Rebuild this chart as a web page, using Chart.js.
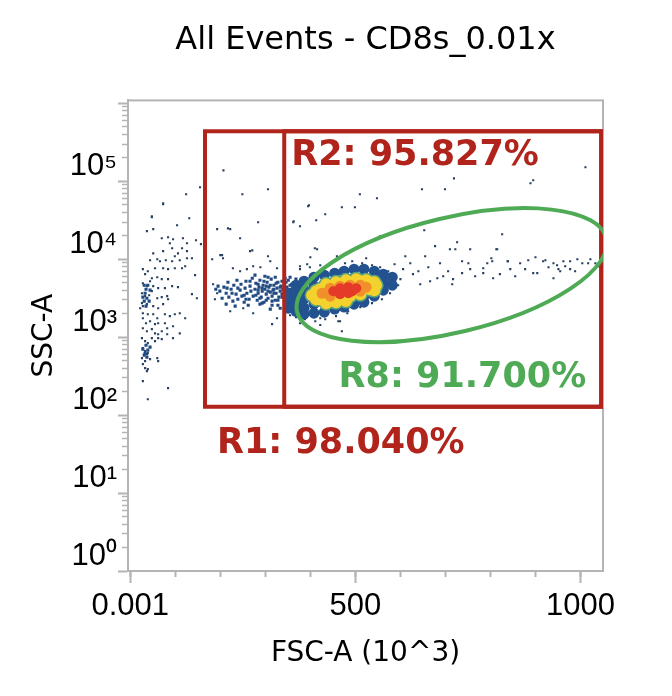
<!DOCTYPE html>
<html><head><meta charset="utf-8">
<script src="https://cdn.jsdelivr.net/npm/chart.js@4.4.1/dist/chart.umd.min.js"></script>
<style>html,body{margin:0;padding:0;background:#fff;}canvas{display:block;}</style>
</head><body>
<canvas id="c" width="672" height="696"></canvas>
<script>
// ---- texts & ticks ----
const titleText = 'All Events - CD8s_0.01x';
const xTitle = 'FSC-A (10^3)';
const yTitle = 'SSC-A';
const xRange = [-5, 1050];
const yRange = [1, 1090000];
const xTickValues = [0, 500, 1000];
const xTickLabels = ['0.001', '500', '1000'];
const xMinorTicks = [0, 100, 200, 300, 400, 500, 600, 700, 800, 900, 1000];
const yTickValues = [1, 10, 100, 1000, 10000, 100000, 1000000];
const yTickLabels = ['10\u2070', '10\u00b9', '10\u00b2', '10\u00b3', '10\u2074', '10\u2075', ''];
const yMinorTicks = [2,3,4,5,6,7,8,9,20,30,40,50,60,70,80,90,200,300,400,500,600,700,800,900,
  2000,3000,4000,5000,6000,7000,8000,9000,20000,30000,40000,50000,60000,70000,80000,90000,
  200000,300000,400000,500000,600000,700000,800000,900000];

// ---- gates ----
const gateR1 = { label: 'R1: 98.040%', x: [166, 1046], y: [128, 438000] };
const gateR2 = { label: 'R2: 95.827%', x: [342, 1046], y: [128, 438000] };
const gateR8 = { label: 'R8: 91.700%', center: [714, 6240], semiX: 353, semiDecades: 0.737, angle: 13.4 };

// ---- events [FSC-A (10^3), SSC-A] ----
const sparseEvents = [
[1011,151000],[895,103000],[719,109000],[699,78900],[648,78900],[510,68100],[548,60500],[470,46400],[499,46400],[397,49200],
[433,37800],[413,31600],[363,30700],[377,26500],[653,23500],[826,20900],[726,16500],[677,14700],[555,19700],[400,10600],
[524,10300],[459,10900],[655,10900],[710,13400],[815,13400],[900,10600],[737,9420],[802,10300],[839,9420],[866,8890],
[922,9710],[948,8380],[977,9420],[993,10000],[1017,8890],[1033,8890],[955,7010],[904,6620],[821,6430],[784,7670],
[755,7450],[737,6620],[695,6050],[682,5700],[666,5220],[644,4780],[715,4780],[628,6430],[606,7450],[590,5700],
[470,1190],[462,1600],[422,1750],[377,1970],[482,2030],[793,8890],[804,9420],[838,9420],[917,9420],[940,8890],
[962,9420],[951,7450],[977,7450],[895,6620],[940,5700],[806,5700],[784,6620],[717,5550],[415,13400],[722,13400],
[813,13400],[889,94300],[622,8890],[640,7010],[662,7890],[688,8890],[706,7010],[751,8890],[766,6050],[844,7450],
[855,6050],[877,7450],[929,7890],[966,8130],[988,7010],[1004,8890],[1022,10000],[1040,8130],[884,9710],[755,13400],
[611,10900],[587,8630],
[207,138000],[155,83800],[249,68100],[306,78900],[124,68100],[73,50700],[48,34500],[131,33500],[395,47800],[362,29800],
[244,18600],[217,24900],[222,24300],[193,24300],[271,13000],[306,10900],[284,29800],[204,11300],[182,10000],[200,11300],
[206,10300],[266,12700],[273,8130],[289,7890],[311,9420],[326,7670],[228,7670],[244,7010],[259,7450],[184,4780],
[193,3660],[188,3070],[222,2150],[251,2350],[273,2030],[326,1750],[315,1470],[377,8130],[393,8630],[410,13800],
[73,52200],[48,35600],[104,27300],[37,22900],[51,24300],[84,19100],[70,18600],[95,18000],[117,18600],[88,16000],
[126,16000],[146,17500],[157,15600],[115,13800],[126,12700],[93,13800],[73,12700],[51,11900],[106,11900],[99,10900],
[44,9710],[60,10000],[66,9420],[79,9710],[93,9420],[110,9710],[126,10300],[137,10300],[28,7450],[33,6430],
[39,7010],[55,7670],[73,7670],[84,7450],[99,7670],[115,7670],[122,8130],[144,6240],[48,5700],[60,5880],
[70,5550],[84,5550],[28,4920],[37,4510],[44,5220],[51,4510],[62,4250],[77,4250],[93,4510],[106,4380],
[26,3660],[33,3360],[42,3450],[48,3890],[60,3160],[70,3260],[82,3360],[84,3070],[137,3560],[148,3160],
[26,2730],[28,2500],[37,2650],[22,2350],[51,2500],[62,2350],[73,2650],[28,2030],[39,1970],[51,1970],
[60,1750],[77,1970],[88,1860],[99,1970],[110,2030],[122,1750],[28,1750],[35,1510],[44,1600],[55,1470],
[62,1510],[77,1510],[82,1300],[95,1380],[28,1300],[37,1190],[48,1270],[55,1120],[62,1090],[70,1190],
[82,1090],[95,971],[110,1120],[26,971],[33,889],[39,838],[48,971],[55,889],[62,971],[70,942],
[28,723],[33,662],[37,605],[39,624],[26,538],[33,492],[44,522],[60,538],[62,492],[28,451],
[33,401],[37,366],[39,389],[28,273],[84,222],[39,160],
[377,7450],[399,7890],[422,8380],[444,8890],[477,8890],[493,9420],[515,8890],[537,8380],[555,7890],[573,7010],
[588,6430],[600,5550],[595,4640],[577,3660],[559,3070],[537,2730],[511,2430],[484,2150],[457,1860],[433,1700],
[411,1600],[388,1700],[368,1800],[355,1910],[377,1510],[422,1430],[466,1600]
];
const bandEvents = [
[208,4380],[213,3660],[217,5070],[219,3260],[224,4120],[228,2900],[230,4640],[235,3560],[237,5380],[239,3070],
[244,4010],[246,4780],[248,3360],[253,2810],[255,4250],[257,5220],[259,3660],[264,3070],[266,4510],[268,3890],
[271,5700],[273,3360],[277,4120],[279,4920],[282,2980],[284,3660],[286,4380],[288,5380],[291,3260],[293,3890],
[295,4640],[297,2810],[299,4120],[302,3560],[304,5070],[306,3160],[308,4380],[311,3780],[313,5550],[315,3360],
[317,4010],[319,4640],[322,2980],[324,3660],[326,4250],[328,5070],[330,3260],[333,3890],[335,4510],[337,3560],
[339,4120],[342,4920],[344,3160],[346,3780],[348,4380],[351,5380],[353,2900],[355,3450],[357,4120],[359,4780],
[199,3890],[195,4510],[204,3160],[190,4120],[213,2650],[233,2500],[262,2570],[288,2650],[315,2570],[344,2570],
[277,6240],[299,6050],[322,5880],[355,5880],[368,5550],[373,2500],[364,2150],[351,2150],
[279,3450],[284,4780],[288,3160],[293,4250],[297,5220],[302,2980],[306,3890],[311,4640],[315,2900],[319,3660],
[324,4920],[328,2980],[333,4380],[337,3260],[342,3890],[346,5070],[351,3260],[355,4640],[359,3070],[364,3890],
[368,4780],[373,3260],[284,4010],[302,4510],[319,4120],[337,5220],[355,2900],[293,2730],[328,2570],[266,5220],
[253,3450],[239,4250],[226,3660],[215,4250],[257,3070],[306,5880],[344,5700],[362,2500],[333,2350],[311,2290],
[31,4640],[35,4120],[39,4640],[33,3660],[37,3160],[31,2900],[42,2900],[35,2500],[44,4010],[28,3260],
[28,702],[33,624],[37,554],[31,588],[39,681],[44,745],[35,789]
];
const haloEvents = [
[351,3660],[351,2900],[351,2350],[368,4640],[368,3560],[368,2730],[368,2150],
[386,5220],[386,4010],[386,3070],[386,2350],[386,1970],[408,5880],[408,4510],[408,3450],[408,2650],[408,2030],
[431,6240],[431,4780],[431,3660],[431,2810],[431,2090],[454,6620],[454,5070],[454,3890],[454,2980],[454,2290],
[475,7010],[475,5380],[475,4120],[475,3160],[475,2430],[497,7450],[497,5700],[497,4380],[497,3360],[497,2650],
[519,7450],[519,5700],[519,4380],[519,3360],[519,2810],[542,7010],[542,5550],[542,4250],[542,3360],
[562,6430],[562,5070],[562,4010],[582,5880],[582,4640]
];
const yellowEvents = [
[404,3450],[422,4120],[422,3070],[444,4510],[444,3560],[444,2900],[466,4780],[466,3890],[466,3160],
[488,5070],[488,4120],[488,3360],[511,5220],[511,4250],[511,3560],[533,5070],[533,4120],[546,4640],
[413,3890],[413,3070],[435,4780],[457,5070],[479,5380],[502,5550],[524,5380],[542,5070],[542,4010],
[457,2810],[479,2900],[435,2730]
];
const orangeEvents = [
[426,3660],[444,4250],[444,3360],[466,4510],[466,3660],[488,4640],[488,3780],[511,4640],[511,3890],[524,4380]
];
const redEvents = [
[451,3890],[466,4250],[466,3560],[484,4380],[484,3660],[493,3890],[502,4250]
];

const RED = '#b0241b', GREEN = '#4eaa55', AXIS = '#b4b4b4';
const pts = arr => arr.map(p => ({x: p[0], y: p[1]}));

function ds(data, color, radius, style) {
  return { data: pts(data), pointRadius: radius, pointHoverRadius: radius, pointBackgroundColor: color,
    pointBorderWidth: 0, pointStyle: style, showLine: false };
}

const overlay = {
  id: 'overlay',
  beforeDatasetsDraw(chart) {
    const {ctx, chartArea: a} = chart;
    ctx.save();
    ctx.strokeStyle = AXIS; ctx.lineWidth = 2;
    ctx.strokeRect(a.left, a.top, a.right - a.left, a.bottom - a.top);
    ctx.restore();
  },
  afterDatasetsDraw(chart) {
    const {ctx, chartArea: a} = chart;
    const xs = chart.scales.x, ys = chart.scales.y;
    ctx.save();
    ctx.beginPath(); ctx.rect(a.left, a.top, a.right - a.left, a.bottom - a.top); ctx.clip();
    ctx.lineWidth = 4; ctx.strokeStyle = RED;
    const box = g => {
      const l = xs.getPixelForValue(g.x[0]), r = xs.getPixelForValue(g.x[1]);
      const t = ys.getPixelForValue(g.y[1]), b = ys.getPixelForValue(g.y[0]);
      return {l, r, t, b};
    };
    const b1 = box(gateR1), b2 = box(gateR2);
    for (const b of [b1, b2]) ctx.strokeRect(b.l, b.t, b.r - b.l, b.b - b.t);
    const cx = xs.getPixelForValue(gateR8.center[0]);
    const cy = ys.getPixelForValue(gateR8.center[1]);
    const rx = xs.getPixelForValue(gateR8.center[0] + gateR8.semiX) - cx;
    const ry = cy - ys.getPixelForValue(gateR8.center[1] * Math.pow(10, gateR8.semiDecades));
    ctx.beginPath();
    ctx.ellipse(cx, cy, rx, ry, -gateR8.angle * Math.PI / 180, 0, Math.PI * 2);
    ctx.strokeStyle = GREEN; ctx.lineWidth = 4; ctx.stroke();
    ctx.restore();

    ctx.save();
    ctx.font = 'bold 35px "DejaVu Sans"';
    ctx.textBaseline = 'alphabetic';
    ctx.fillStyle = RED; ctx.textAlign = 'left';
    ctx.fillText(gateR2.label, b2.l + 7, b2.t + 34);
    ctx.fillText(gateR1.label, b1.l + 12, b1.b + 46);
    ctx.fillStyle = GREEN; ctx.textAlign = 'right';
    ctx.fillText(gateR8.label, b2.r - 15, b2.b - 20);
    ctx.restore();
  }
};

const tickFont = {family: '"Liberation Sans", Arial, sans-serif', size: 31};
const titleFont = {family: '"DejaVu Sans", sans-serif', size: 28};

new Chart(document.getElementById('c'), {
  type: 'scatter',
  data: { datasets: [
    ds(redEvents, '#e5392a', 5, 'circle'),
    ds(orangeEvents, '#f1902a', 5.5, 'circle'),
    ds(yellowEvents, '#f3d22e', 6, 'circle'),
    ds(yellowEvents, '#5aa27c', 7.5, 'circle'),
    ds(haloEvents, '#22528f', 5.5, 'circle'),
    ds(bandEvents, '#1f4a82', 2.2, 'rect'),
    ds(sparseEvents, '#27405f', 1.5, 'rect')
  ]},
  options: {
    responsive: false, animation: false, devicePixelRatio: 1,
    layout: { padding: { left: 0, right: 69, top: 0, bottom: 0 } },
    plugins: {
      legend: { display: false }, tooltip: { enabled: false },
      title: { display: true, text: titleText, fullSize: false, color: '#000',
        font: { family: '"DejaVu Sans", sans-serif', size: 32, weight: 'normal' },
        padding: { top: 21, bottom: 41 } }
    },
    scales: {
      x: { type: 'linear', position: 'bottom', weight: 1, min: xRange[0], max: xRange[1],
        afterBuildTicks: s => { s.ticks = xTickValues.map(v => ({value: v})); },
        afterFit: s => { s.height = 125; },
        ticks: { autoSkip: false, maxRotation: 0, padding: 5, color: '#000', font: tickFont,
          callback: (v, i) => xTickLabels[i] },
        grid: { drawOnChartArea: false, drawTicks: true, tickLength: 12, tickColor: AXIS, tickWidth: 2 },
        border: { display: true, color: AXIS, width: 2 },
        title: { display: true, text: xTitle, color: '#000', font: titleFont, padding: { top: 0, bottom: 25 } } },
      xMinor: { type: 'linear', position: 'bottom', weight: 0, min: xRange[0], max: xRange[1],
        afterBuildTicks: s => { s.ticks = xMinorTicks.map(v => ({value: v})); },
        afterFit: s => { s.height = 0; },
        ticks: { display: false, autoSkip: false },
        grid: { drawOnChartArea: false, drawTicks: true, tickLength: 6, tickColor: AXIS, tickWidth: 2 },
        border: { display: false } },
      y: { type: 'logarithmic', position: 'left', weight: 1, min: yRange[0], max: yRange[1],
        afterBuildTicks: s => { s.ticks = yTickValues.map(v => ({value: v})); },
        afterFit: s => { s.width = 128; },
        ticks: { autoSkip: false, padding: 1, labelOffset: -15, color: '#000', font: tickFont,
          callback: (v, i) => yTickLabels[i] },
        grid: { drawOnChartArea: false, drawTicks: true, tickLength: 10, tickColor: AXIS, tickWidth: 2 },
        border: { display: true, color: AXIS, width: 2 },
        title: { display: true, text: yTitle, color: '#000', font: titleFont, padding: { top: 28, bottom: 0 } } },
      yMinor: { type: 'logarithmic', position: 'left', weight: 0, min: yRange[0], max: yRange[1],
        afterBuildTicks: s => { s.ticks = yMinorTicks.map(v => ({value: v})); },
        afterFit: s => { s.width = 0; },
        ticks: { display: false, autoSkip: false },
        grid: { drawOnChartArea: false, drawTicks: true, tickLength: 6, tickColor: AXIS, tickWidth: 1.5 },
        border: { display: false } }
    }
  },
  plugins: [overlay]
});
</script>
</body></html>
